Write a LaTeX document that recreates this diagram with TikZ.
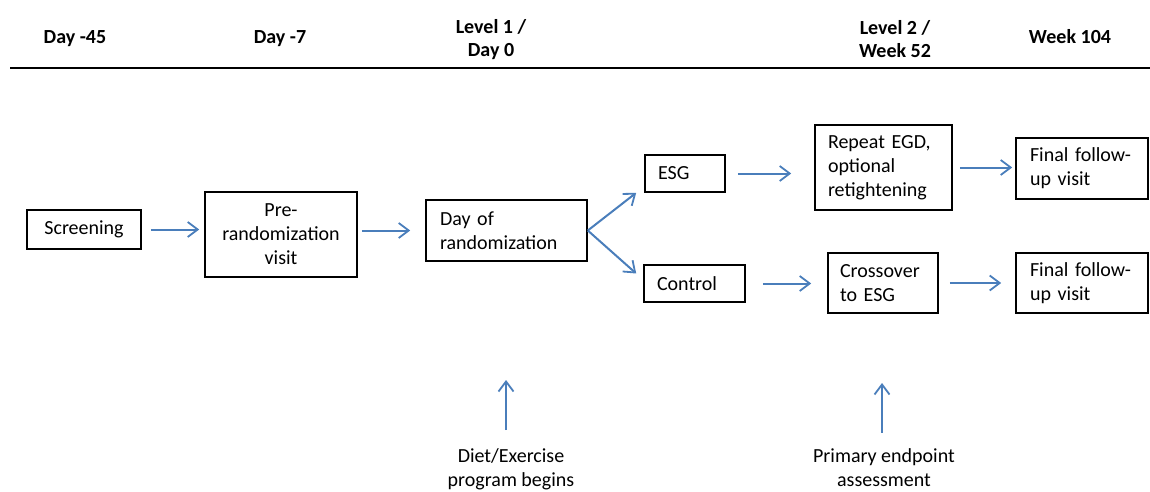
\documentclass[tikz,border=0pt]{standalone}
\usepackage{fontspec}
\setmainfont{Carlito}
\usetikzlibrary{arrows.meta,calc}
\definecolor{arrblue}{RGB}{74,126,187}
\begin{document}
\begin{tikzpicture}[x=1pt,y=-1pt,
  every node/.style={font=\fontsize{20}{24}\selectfont},
  hdr/.style={font=\bfseries\fontsize{20}{23}\selectfont, align=center, inner sep=0pt},
  cbox/.style={draw, line width=1.6pt, align=center, inner sep=0pt},
  lbox/.style={draw, line width=1.6pt, align=left, inner ysep=0pt},
  arr/.style={draw=arrblue, line width=2pt, -{Straight Barb[length=10pt,width=15pt,line width=1.8pt]}},
  note/.style={align=center, inner sep=0pt}]
\useasboundingbox (0,0) rectangle (1150,491);
\clip (0,0) rectangle (1150,491);
% header
\node[hdr, anchor=base] (h1) at (75,43.5) {Day -45};
\node[hdr, anchor=base] (h2) at (280,43.5) {Day -7};
\node[hdr] (h3) at (491,40) {Level 1 /\\Day 0};
\node[hdr] (h4) at (895,39) {Level 2 /\\Week 52};
\node[hdr, anchor=base] (h5) at (1070,43.5) {Week 104};
\coordinate (l0) at (10,68);
\coordinate (l1) at (1150,68);
\draw[line width=1.6pt] (l0) -- (l1);
% boxes
\node[cbox, minimum width=114pt, minimum height=39pt] (scr) at (84,229.5) {Screening};
\node[cbox, minimum width=152pt, minimum height=85pt] (pre) at (281,234.5) {Pre-\\randomization\\visit};
\node[lbox, inner xsep=14pt, text width=133pt, minimum height=61pt] (dor) at (506.5,230.5) {\mbox{Day of}\\randomization};
\node[lbox, inner xsep=13pt, text width=54pt, minimum height=37pt] (esg) at (685,173.5) {ESG};
\node[lbox, inner xsep=13pt, text width=75pt, minimum height=37pt] (ctl) at (694.5,283.5) {Control};
\node[lbox, inner xsep=13pt, text width=111pt, minimum height=85pt] (rep) at (883.5,167.5) {\mbox{Repeat EGD,}\\optional\\retightening};
\node[lbox, inner xsep=12pt, text width=86pt, minimum height=60pt] (cro) at (883,283) {Crossover\\\mbox{to ESG}};
\node[lbox, inner xsep=14pt, text width=104pt, minimum height=61pt] (fin1) at (1082,168.5) {\mbox{Final follow-}\\\mbox{up visit}};
\node[lbox, inner xsep=14pt, text width=104pt, minimum height=60pt] (fin2) at (1082,283) {\mbox{Final follow-}\\\mbox{up visit}};
% notes
\node[note] (diet) at (511,469) {Diet/Exercise\\program begins};
\node[note] (prim) at (884,468) {Primary endpoint\\assessment};
\coordinate (d0) at (506,380);
\coordinate (p0) at (882,383);
% connectors
\draw[arr, shorten <=9pt, shorten >=5pt] (scr.east) -- (scr.east -| pre.west);
\draw[arr, shorten <=4pt, shorten >=15pt] (pre.east |- dor.west) -- (dor.west);
\draw[arr] (dor.east) -- ($(esg.south west)+(-8,0)$);
\draw[arr] (dor.east) -- ($(ctl.west)+(-7,-10)$);
\draw[arr, shorten <=12pt, shorten >=23pt] (esg.east) -- (esg.east -| rep.west);
\draw[arr, shorten <=7pt, shorten >=3pt] (rep.east) -- (rep.east -| fin1.west);
\draw[arr, shorten <=17pt, shorten >=16pt] (ctl.east) -- (ctl.east -| cro.west);
\draw[arr, shorten <=11pt, shorten >=14pt] (cro.east) -- (cro.east -| fin2.west);
\draw[arr, shorten <=18pt] (diet.north -| d0) -- (d0);
\draw[arr, shorten <=16pt] (prim.north -| p0) -- (p0);
\end{tikzpicture}
\end{document}
